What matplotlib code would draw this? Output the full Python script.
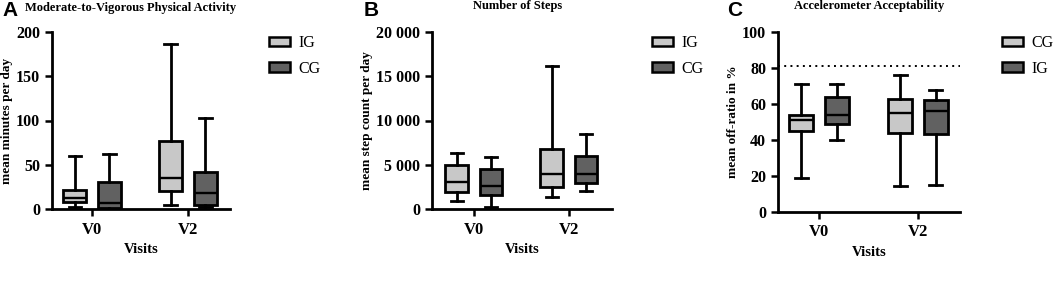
import matplotlib
matplotlib.use("Agg")
import matplotlib.pyplot as plt
from matplotlib.patches import Patch

# ---- data (five-number summaries: min, q1, median, q3, max) ----
visits = ["V0", "V2"]

mvpa_ig = [[2, 8, 12, 22, 60], [5, 20, 35, 77, 186]]
mvpa_cg = [[0, 1, 7, 31, 62], [2, 5, 18, 42, 103]]

steps_ig = [[900, 1900, 3100, 5000, 6300], [1400, 2500, 4000, 6800, 16200]]
steps_cg = [[200, 1600, 2600, 4500, 5900], [2000, 2900, 3900, 6000, 8500]]

accept_cg = [[19, 45, 51, 54, 71], [14.5, 44, 55, 63, 76]]
accept_ig = [[40, 49, 54, 64, 71], [15, 43.5, 56, 62, 68]]
accept_threshold = 81

LIGHT = "#c8c8c8"
DARK = "#616161"
SERIF = "Liberation Serif"

fig = plt.figure(figsize=(10.53, 2.85), dpi=100)
W, H = 1053, 285


def px_axes(l, r, top, bot):
    return fig.add_axes([l / W, 1 - bot / H, (r - l) / W, (bot - top) / H])


def stats(five):
    mn, q1, med, q3, mx = five
    return dict(whislo=mn, q1=q1, med=med, q3=q3, whishi=mx, fliers=[])


def draw_panel(ax, first, second, colors, ylim, yticks, yticklabels, xlim, ylabel):
    off, wid = 0.18, 0.24
    for series, col, sgn in ((first, colors[0], -1), (second, colors[1], 1)):
        st = [stats(s) for s in series]
        pos = [i + sgn * off for i in range(len(visits))]
        ax.bxp(st, positions=pos, widths=wid, patch_artist=True, showfliers=False,
               boxprops=dict(facecolor=col, edgecolor="black", linewidth=2.0),
               medianprops=dict(color="black", linewidth=1.7),
               whiskerprops=dict(color="black", linewidth=2.0),
               capprops=dict(color="black", linewidth=2.0),
               capwidths=0.13, manage_ticks=False)
    ax.set_xlim(*xlim)
    ax.set_ylim(*ylim)
    ax.set_yticks(yticks)
    ax.set_yticklabels(yticklabels)
    ax.set_xticks(range(len(visits)))
    ax.set_xticklabels(visits)
    for s in ("top", "right"):
        ax.spines[s].set_visible(False)
    for s in ("left", "bottom"):
        ax.spines[s].set_linewidth(2.0)
    ax.tick_params(axis="both", direction="out", width=1.8, length=5,
                   labelsize=11.5)
    for lab in ax.get_yticklabels() + ax.get_xticklabels():
        lab.set_fontfamily(SERIF)
        lab.set_fontweight("bold")
    for lab in ax.get_xticklabels():
        lab.set_fontsize(12)
    ax.tick_params(axis="x", pad=4)
    ax.set_ylabel(ylabel, fontfamily=SERIF, fontweight="bold", fontsize=9.5,
                  labelpad=2)
    ax.set_xlabel("Visits", fontfamily=SERIF, fontweight="bold", fontsize=10.5,
                  labelpad=4)


# Panel A
axA = px_axes(52, 230, 32, 209)
draw_panel(axA, mvpa_ig, mvpa_cg, (LIGHT, DARK), (0, 200), [0, 50, 100, 150, 200],
           ["0", "50", "100", "150", "200"], (-0.417, 1.4375), "mean minutes per day")

# Panel B
axB = px_axes(432, 612, 32, 209)
draw_panel(axB, steps_ig, steps_cg, (LIGHT, DARK), (0, 20000),
           [0, 5000, 10000, 15000, 20000],
           ["0", "5 000", "10 000", "15 000", "20 000"], (-0.442, 1.453),
           "mean step count per day")

# Panel C
axC = px_axes(778, 960, 32, 212)
draw_panel(axC, accept_cg, accept_ig, (LIGHT, DARK), (0, 100),
           [0, 20, 40, 60, 80, 100], ["0", "20", "40", "60", "80", "100"],
           (-0.414, 1.424), "mean off-ratio in %")
axC.axhline(accept_threshold, color="black", linestyle=(0, (1, 2.2)), linewidth=1.4)

# Legends
def legend(labels, colors, x, y):
    handles = [Patch(facecolor=c, edgecolor="black", linewidth=1.8, label=l)
               for l, c in zip(labels, colors)]
    fig.legend(handles=handles, loc="upper left", bbox_to_anchor=(x / W, 1 - y / H),
               frameon=False, prop=dict(family=SERIF, size=11.5),
               handlelength=1.3, handleheight=0.55, handletextpad=0.55,
               labelspacing=0.6, borderaxespad=0, borderpad=0)

legend(["IG", "CG"], [LIGHT, DARK], 269, 35)
legend(["IG", "CG"], [LIGHT, DARK], 652, 35)
legend(["CG", "IG"], [LIGHT, DARK], 1002, 35)

# Titles and panel letters
fig.text(131 / W, 1 - 8 / H, "Moderate-to-Vigorous Physical Activity", ha="center",
         va="center", fontfamily=SERIF, fontweight="bold", fontsize=9)
fig.text(518 / W, 1 - 6 / H, "Number of Steps", ha="center", va="center",
         fontfamily=SERIF, fontweight="bold", fontsize=9)
fig.text(869 / W, 1 - 6 / H, "Accelerometer Acceptability", ha="center", va="center",
         fontfamily=SERIF, fontweight="bold", fontsize=9)
for letter, x in (("A", 2), ("B", 364), ("C", 727)):
    fig.text(x / W, 1 - 10 / H, letter, ha="left", va="center",
             fontfamily="Liberation Sans", fontweight="bold", fontsize=15)

fig.savefig("out.png", dpi=100)
